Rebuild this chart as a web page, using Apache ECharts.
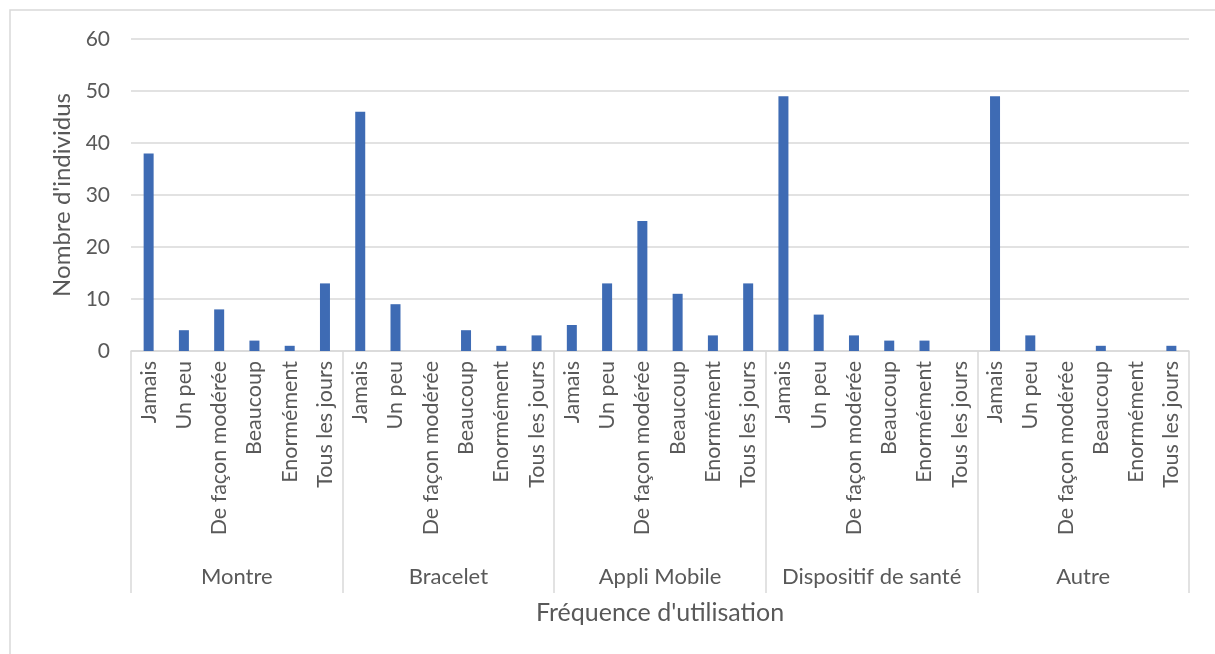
<!DOCTYPE html>
<html>
<head>
<meta charset="utf-8">
<script src="https://cdn.jsdelivr.net/npm/echarts@6/dist/echarts.min.js"></script>
<style>
  html, body { margin: 0; padding: 0; background: #fff; }
  #chart { width: 1215px; height: 654px; }
</style>
</head>
<body>
<div id="chart"></div>
<script>
// Fréquence d'utilisation par type de dispositif
const groups = ['Montre', 'Bracelet', 'Appli Mobile', 'Dispositif de santé', 'Autre'];
const frequencies = ['Jamais', 'Un peu', 'De façon modérée', 'Beaucoup', 'Enormément', 'Tous les jours'];

const montre = [38, 4, 8, 2, 1, 13];
const bracelet = [46, 9, 0, 4, 1, 3];
const appliMobile = [5, 13, 25, 11, 3, 13];
const dispositifSante = [49, 7, 3, 2, 2, 0];
const autre = [49, 3, 0, 1, 0, 1];

const yTicks = { min: 0, max: 60, interval: 10 };

// flatten into one category per (group, frequency) pair
const seriesByGroup = [montre, bracelet, appliMobile, dispositifSante, autre];
const categories = [];
const values = [];
seriesByGroup.forEach((vals, g) => {
  vals.forEach((v, i) => {
    categories.push(groups[g] + '|' + frequencies[i]);
    values.push(v);
  });
});

const FONT = 'Lato, "Open Sans", sans-serif';
const TEXT = '#595959';
const LINE = '#d9d9d9';

const chart = echarts.init(document.getElementById('chart'), null, { renderer: 'canvas' });
chart.setOption({
  animation: false,
  backgroundColor: '#ffffff',
  graphic: [{
    type: 'rect',
    shape: { x: 10, y: 10, width: 1230, height: 700 },
    style: { fill: 'none', stroke: LINE, lineWidth: 1.5 },
    silent: true
  }],
  grid: { left: 131, right: 26, top: 39, bottom: 303, containLabel: false },
  xAxis: [{
    type: 'category',
    data: categories,
    position: 'bottom',
    boundaryGap: true,
    axisLine: { show: true, lineStyle: { color: LINE, width: 1.5 } },
    axisTick: { show: false },
    axisLabel: {
      interval: 0,
      rotate: 90,
      margin: 10,
      color: TEXT,
      fontFamily: FONT,
      fontSize: 21.5,
      formatter: v => v.split('|')[1]
    }
  }, {
    type: 'category',
    data: groups,
    position: 'bottom',
    boundaryGap: true,
    axisLine: { show: false },
    axisTick: { show: true, length: 242, lineStyle: { color: LINE, width: 1.5 } },
    axisLabel: {
      interval: 0,
      margin: 215,
      color: TEXT,
      fontFamily: FONT,
      fontSize: 22
    },
    name: "Fréquence d'utilisation",
    nameLocation: 'middle',
    nameGap: 249,
    nameTextStyle: { color: TEXT, fontFamily: FONT, fontSize: 25, verticalAlign: 'top' }
  }],
  yAxis: {
    type: 'value',
    min: yTicks.min,
    max: yTicks.max,
    interval: yTicks.interval,
    axisLine: { show: false },
    axisTick: { show: false },
    splitLine: { lineStyle: { color: LINE, width: 1.5 } },
    axisLabel: { margin: 21, color: TEXT, fontFamily: FONT, fontSize: 21 },
    name: "Nombre d'individus",
    nameLocation: 'middle',
    nameGap: 57,
    nameTextStyle: { color: TEXT, fontFamily: FONT, fontSize: 24 }
  },
  series: [{
    type: 'bar',
    xAxisIndex: 0,
    data: values,
    barWidth: 10,
    itemStyle: { color: '#3e6bb4' }
  }]
});
</script>
</body>
</html>
